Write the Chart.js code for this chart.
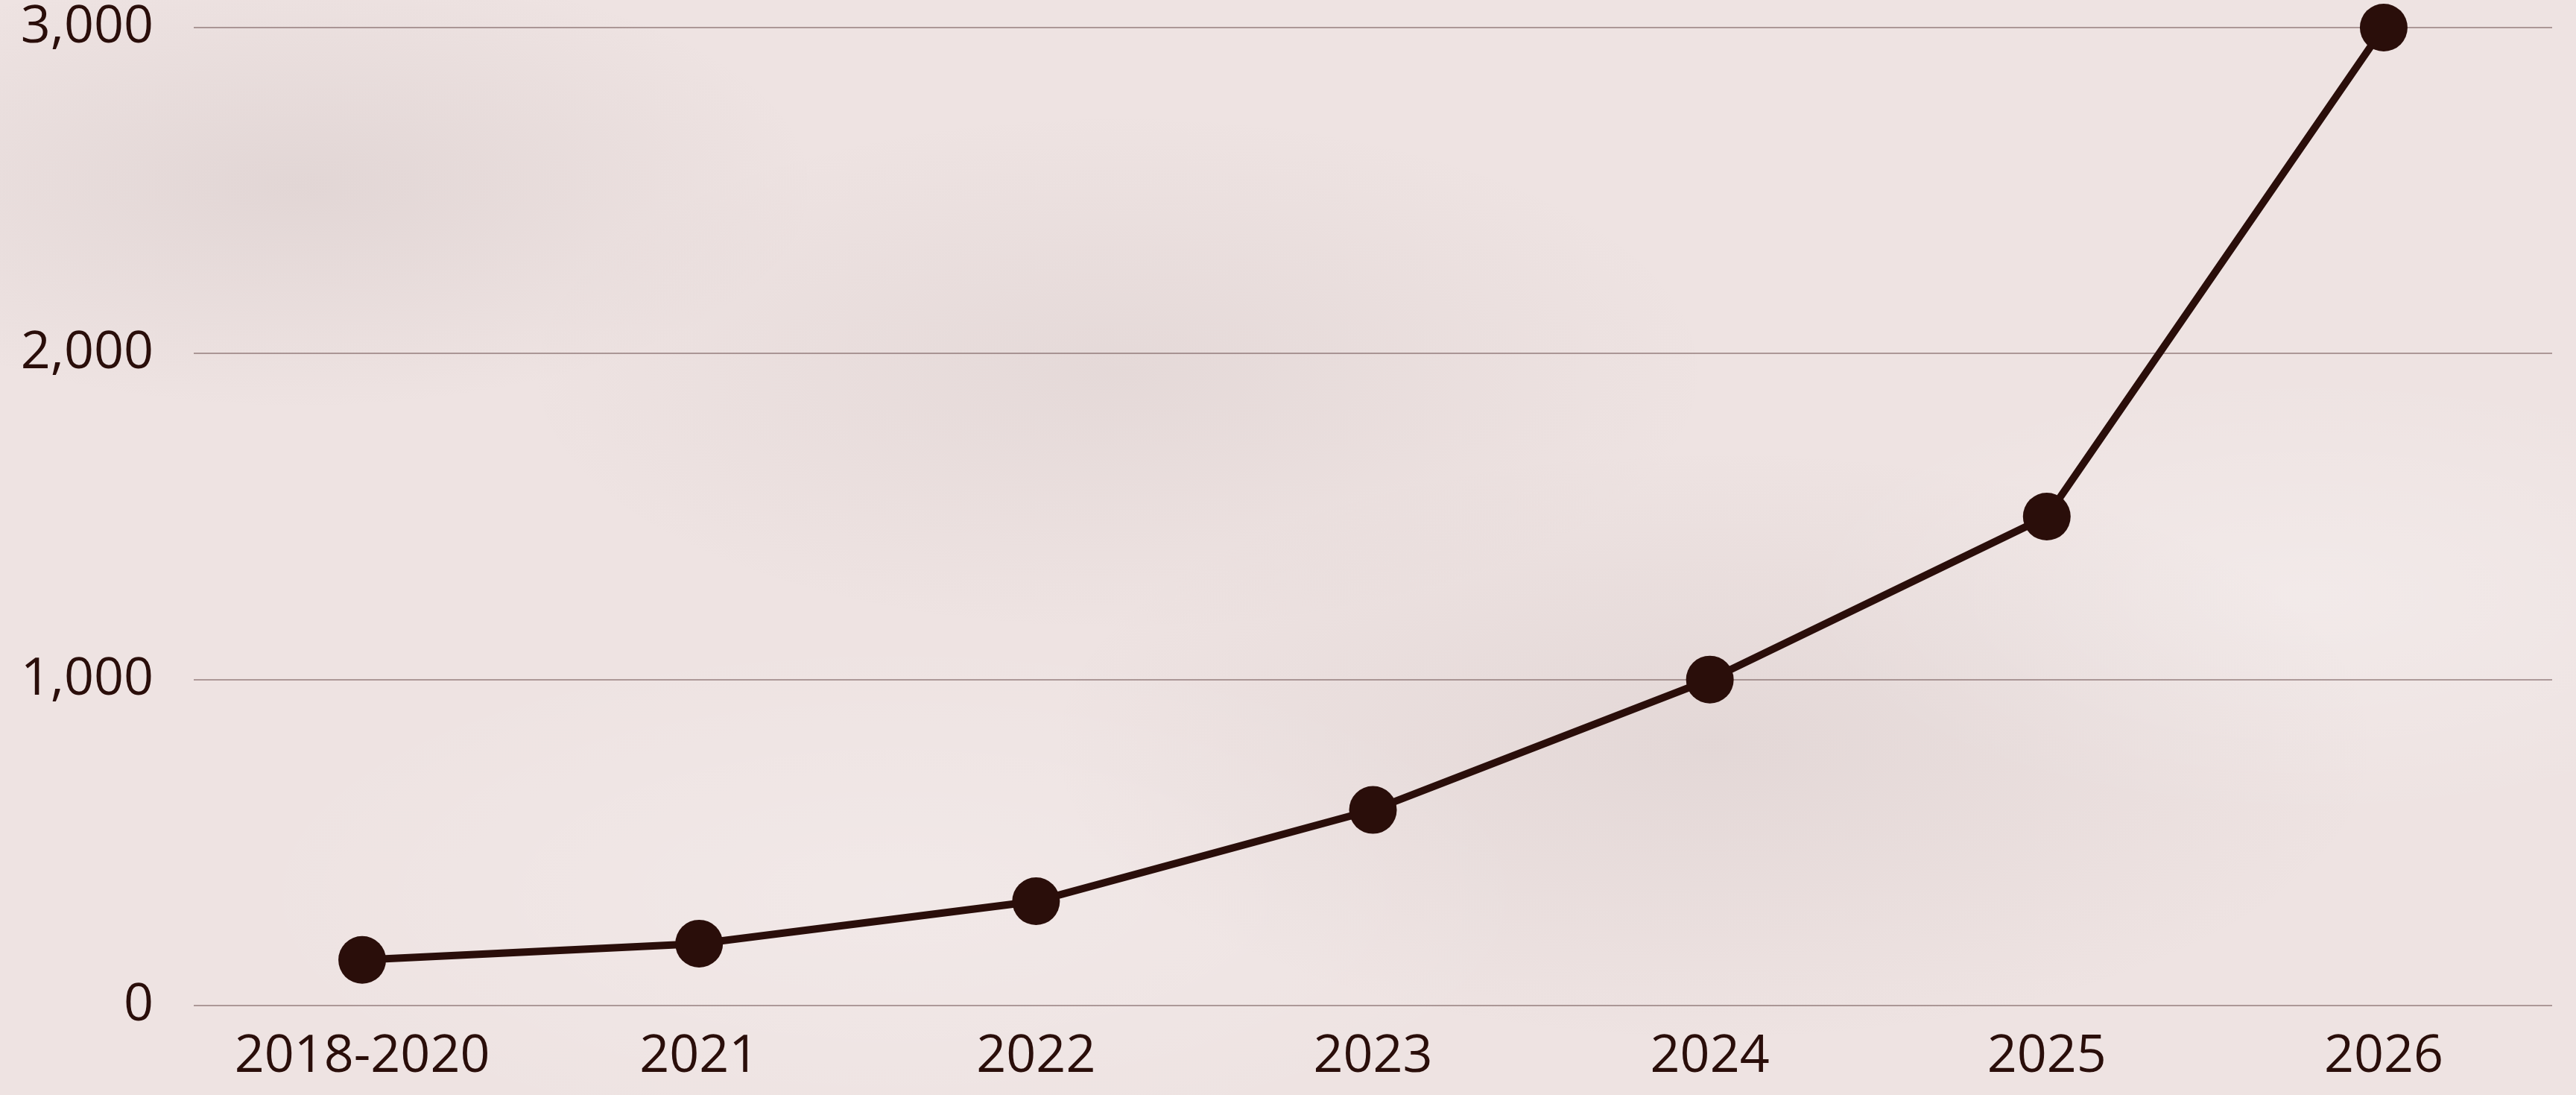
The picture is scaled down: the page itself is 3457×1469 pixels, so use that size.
<!DOCTYPE html>
<html>
<head>
<meta charset="utf-8">
<script src="https://cdn.jsdelivr.net/npm/chart.js@4.4.1/dist/chart.umd.min.js"></script>
<style>
  html, body { margin: 0; padding: 0; width: 3457px; height: 1469px; overflow: hidden; }
  body {
    background-color: #eee3e2;
    background-image:
      radial-gradient(ellipse 700px 300px at 400px 250px, rgba(120,100,100,0.10), rgba(0,0,0,0)),
      radial-gradient(ellipse 800px 350px at 1500px 500px, rgba(120,100,100,0.08), rgba(0,0,0,0)),
      radial-gradient(ellipse 900px 400px at 2300px 1000px, rgba(120,100,100,0.09), rgba(0,0,0,0)),
      radial-gradient(ellipse 700px 300px at 3100px 800px, rgba(255,255,255,0.25), rgba(0,0,0,0)),
      radial-gradient(ellipse 900px 350px at 1200px 1200px, rgba(255,255,255,0.20), rgba(0,0,0,0));
  }
  #wrap { position: absolute; left: 0; top: 0; width: 3457px; height: 1469px; }
</style>
</head>
<body>
<div id="wrap"><canvas id="c" width="3457" height="1469"></canvas></div>
<script>
const categories = ["2018-2020", "2021", "2022", "2023", "2024", "2025", "2026"];
const values = [140, 190, 320, 600, 1000, 1500, 3000];
const yTicks = [0, 1000, 2000, 3000];

const ink = "#2a0e0a";
const fontFamily = "'Open Sans', 'Noto Sans', sans-serif";

new Chart(document.getElementById("c"), {
  type: "line",
  data: {
    labels: categories,
    datasets: [{
      data: values,
      borderColor: ink,
      backgroundColor: ink,
      borderWidth: 10,
      pointRadius: 32,
      pointHoverRadius: 32,
      pointBackgroundColor: ink,
      pointBorderWidth: 0,
      tension: 0,
      fill: false,
      clip: false
    }]
  },
  options: {
    responsive: false,
    animation: false,
    devicePixelRatio: 1,
    layout: { padding: { top: 37, right: 26, bottom: 0, left: 0 } },
    plugins: { legend: { display: false }, tooltip: { enabled: false } },
    scales: {
      x: {
        offset: true,
        grid: { display: false, drawTicks: false },
        border: { display: false },
        ticks: {
          color: ink,
          padding: 34,
          font: { family: fontFamily, size: 70, lineHeight: 1 },
          maxRotation: 0
        },
        afterFit: (s) => { s.height = 120; s.paddingLeft = 0; s.paddingRight = 0; }
      },
      y: {
        min: 0,
        max: 3000,
        afterBuildTicks: (s) => { s.ticks = yTicks.map(v => ({ value: v })); },
        grid: { color: "rgba(90,60,60,0.45)", lineWidth: 2, drawTicks: false },
        border: { display: false },
        ticks: {
          color: ink,
          padding: 54,
          font: { family: fontFamily, size: 70, lineHeight: 1 },
          callback: (v) => Number(v).toLocaleString("en-US")
        },
        afterFit: (s) => { s.width = 260; s.paddingTop = 0; s.paddingBottom = 0; }
      }
    }
  }
});
</script>
</body>
</html>
